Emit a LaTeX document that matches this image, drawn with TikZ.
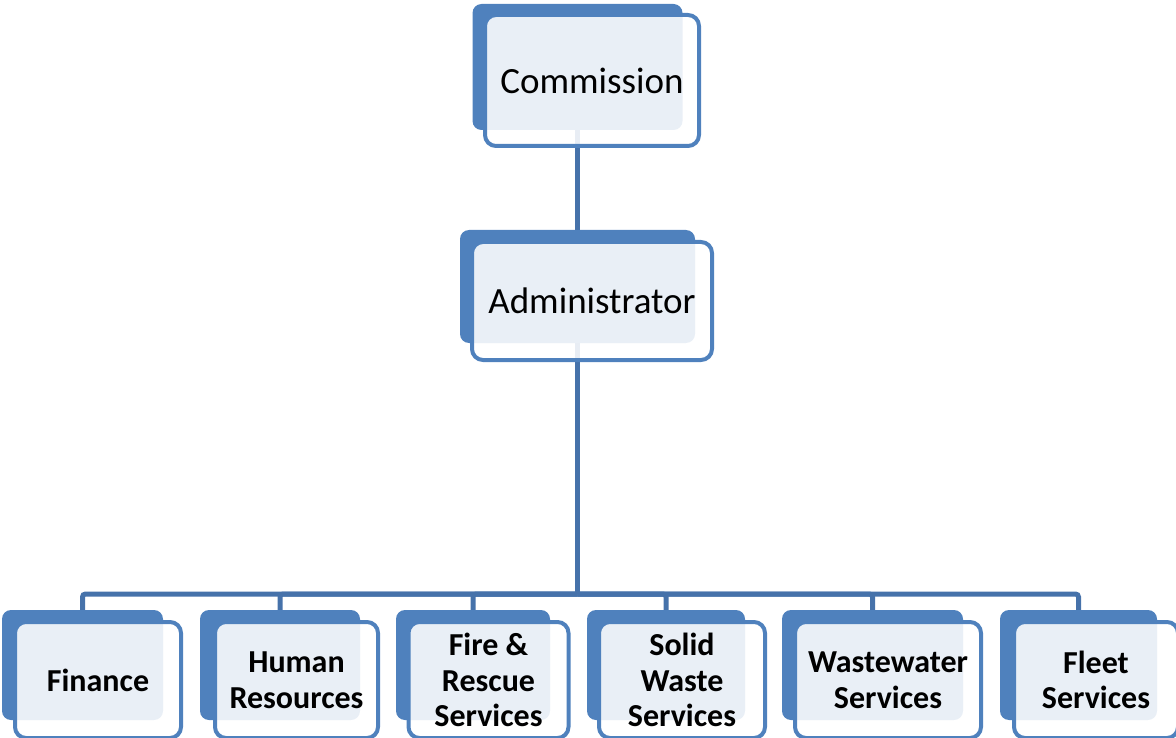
\documentclass[tikz,border=0pt]{standalone}
\usepackage{fontspec}
\setmainfont{Carlito}
\usetikzlibrary{positioning,backgrounds}
\definecolor{boxblue}{RGB}{79,129,189}
\definecolor{linkblue}{RGB}{70,114,170}
\tikzset{
    backbox/.style={rectangle,rounded corners=9pt,fill=boxblue,inner sep=0pt},
    frontbox/.style={rectangle,rounded corners=11pt,draw=boxblue,line width=4pt,
        fill=white,fill opacity=0.88,text opacity=1,inner sep=0pt,align=center},
    link/.style={draw=linkblue,line width=5pt,rounded corners=3pt},
    toptext/.style={font=\fontsize{37}{44}\selectfont},
    bottext/.style={font=\fontsize{32}{35.5}\selectfont\bfseries},
}

\begin{document}
\begin{tikzpicture}[x=1pt,y=-1pt]
\useasboundingbox (0,0) rectangle (1176,738);

% top two levels
\node[backbox,minimum width=210pt,minimum height=126pt] (commB) at (577.5,67) {};
\node[frontbox,toptext,minimum width=214pt,minimum height=131pt] (comm) at (592,80.5) {Commission};
\node[backbox,minimum width=235pt,minimum height=113pt] (adminB) at (577.5,286.5) {};
\node[frontbox,toptext,minimum width=240pt,minimum height=118pt] (admin) at (592,301) {Administrator};

% departments
\foreach \n/\bx/\bw/\fx/\fw/\t in {finance/82.5/161/98/166/{Finance},
    hr/280/160/296.5/163/{Human\\Resources},
    fire/473/154/488.5/160/{Fire \&\\Rescue\\Services},
    solid/666/158/682/166/{Solid\\Waste\\Services},
    waste/872.5/181/888/186/{Wastewater\\Services},
    fleet/1078.5/157/1096/164/{Fleet\\Services}}
  {
    \node[backbox,minimum width=\bw pt,minimum height=110pt] (\n B) at (\bx,665) {};
    \node[frontbox,bottext,minimum width=\fw pt,minimum height=116pt] (\n) at (\fx,680) {\t};
  }

\coordinate (bus) at (577.5,594);
\begin{scope}[on background layer]
\draw[link] (commB) -- (adminB);
\draw[link] (adminB) -- (bus);
\foreach \n in {finance,hr,fire,solid,waste,fleet}
    \draw[link] (bus) -| (\n B.north);
\end{scope}
\end{tikzpicture}
\end{document}
